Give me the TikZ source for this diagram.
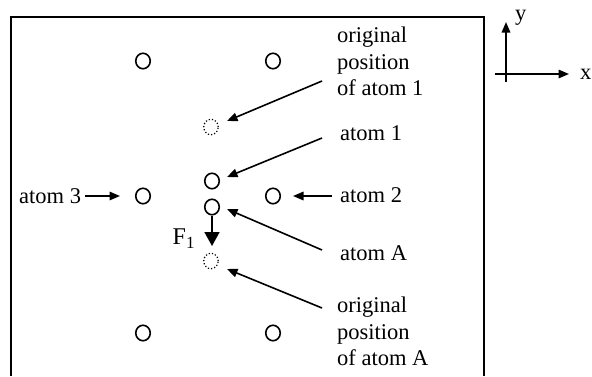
\documentclass[tikz,border=0pt]{standalone}
\usepackage{fontspec}
\setmainfont{Liberation Serif}
\usetikzlibrary{arrows.meta,shapes.geometric}
\begin{document}
\begin{tikzpicture}[x=1pt,y=-1pt,
  atom/.style={ellipse,draw,line width=1.6pt,minimum width=14.5pt,minimum height=15.5pt,inner sep=0pt},
  ghost/.style={ellipse,draw,dotted,line width=1.2pt,minimum width=14.5pt,minimum height=15.5pt,inner sep=0pt},
  lbl/.style={inner sep=0pt,font=\fontsize{22.5}{26.7}\selectfont},
  ptr/.style={line width=1.6pt,-{Triangle[length=10.5pt,width=8.5pt]}},
  force/.style={line width=1.6pt,-{Triangle[length=14pt,width=15pt]}}]
  \useasboundingbox (0,0) rectangle (592,376);
  % frame, open at the bottom edge
  \draw[line width=1.6pt] (11,376) -- (11,17) -- (484,17) -- (484,376);

  % lattice atoms
  \node[atom] (tl) at (143,61) {};
  \node[atom] (tr) at (273,61) {};
  \node[atom] (a3) at (143,196) {};
  \node[atom] (a2) at (273,196) {};
  \node[atom] (bl) at (143,333) {};
  \node[atom] (br) at (273,333) {};
  \node[atom] (a1) at (212,181) {};
  \node[atom] (aA) at (212,207) {};
  \node[ghost] (o1) at (211,127) {};
  \node[ghost] (oA) at (211,261) {};

  % labels
  \node[lbl,anchor=north west,align=left] (Lo1) at (337,26.5) {original\\position\\of atom 1};
  \node[lbl,anchor=base west] (L1) at (340,140) {atom 1};
  \node[lbl,anchor=base west] (L2) at (340,202) {atom 2};
  \node[lbl,anchor=base west] (LA) at (340,260) {atom A};
  \node[lbl,anchor=north west,align=left] (LoA) at (337,296.6) {original\\position\\of atom A};
  \node[lbl,anchor=base west] (L3) at (19,203) {atom 3};
  \node[inner sep=0pt,anchor=base west,font=\fontsize{24}{28}\selectfont] (F) at (172.5,244)
    {F\raisebox{-4pt}{\fontsize{17}{20}\selectfont 1}};

  % pointers from labels to atoms
  \coordinate (t1) at (322,81);
  \coordinate (t2) at (322,138);
  \coordinate (t3) at (332,196);
  \coordinate (t4) at (322,250);
  \coordinate (t5) at (322,308);
  \coordinate (h1) at (227,121);
  \coordinate (h2) at (227,177);
  \coordinate (h3) at (293,196);
  \coordinate (h4) at (227,209);
  \coordinate (h5) at (227,269);
  \draw[ptr] (t1) -- (h1);
  \draw[ptr] (t2) -- (h2);
  \draw[ptr] (t3) -- (h3);
  \draw[ptr] (t4) -- (h4);
  \draw[ptr] (t5) -- (h5);
  \coordinate (t6) at (85,196);
  \coordinate (h6) at (120,196);
  \draw[ptr] (t6) -- (h6);

  % force on atom A
  \coordinate (fend) at (212,246);
  \draw[force] (aA.south) -- (fend);

  % axes
  \coordinate (xo) at (495,74);
  \coordinate (xe) at (569,74);
  \coordinate (yo) at (506,82);
  \coordinate (ye) at (506,22);
  \draw[ptr] (xo) -- (xe);
  \draw[ptr] (yo) -- (ye);
  \node[lbl,anchor=base west] (xl) at (580,79) {x};
  \node[lbl,anchor=base west] (yl) at (515,20) {y};
\end{tikzpicture}
\end{document}
